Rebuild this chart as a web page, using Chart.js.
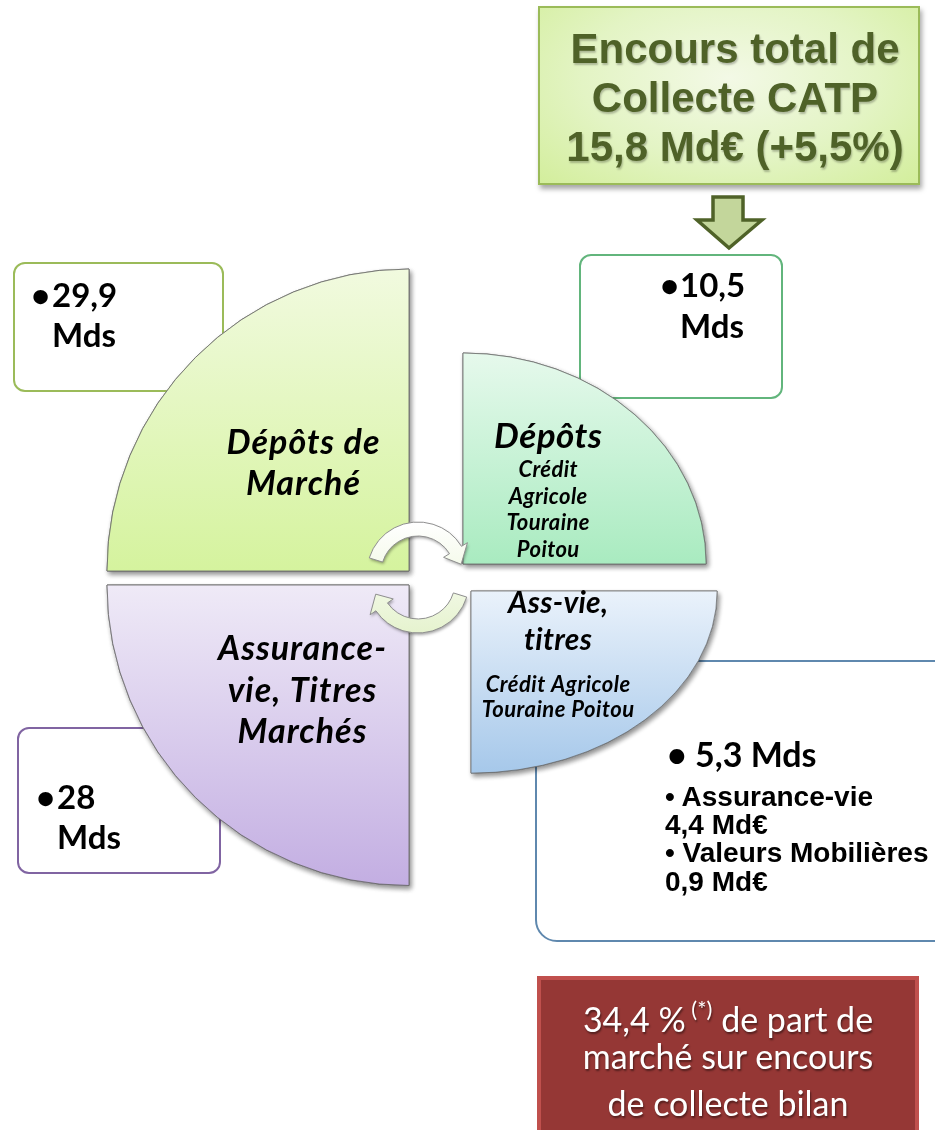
<!DOCTYPE html>
<html>
<head>
<meta charset="utf-8">
<script src="https://cdn.jsdelivr.net/npm/chart.js@4.4.1/dist/chart.umd.min.js"></script>
<style>
  html, body { margin: 0; padding: 0; background: #fff; }
  #page { position: relative; width: 935px; height: 1130px; overflow: hidden; }
  #chart { position: absolute; left: 0; top: 0; z-index: 2; }
  .box { position: absolute; box-sizing: border-box; background: #fff; z-index: 1; }
  .txt { position: absolute; white-space: nowrap; z-index: 3; }
  #arrow { position: absolute; left: 0; top: 0; z-index: 1; }
</style>
</head>
<body>
<div id="page">
  <!-- value boxes (sit behind the quadrants) -->
  <div class="box" style="left:13px;top:262px;width:211px;height:130px;border:2px solid #9bbb59;border-radius:12px;"></div>
  <div class="box" style="left:579px;top:254px;width:204px;height:145px;border:2px solid #62b57c;border-radius:12px;"></div>
  <div class="box" style="left:17px;top:727px;width:204px;height:147px;border:2px solid #8064a2;border-radius:12px;"></div>
  <div class="box" style="left:535px;top:660px;width:420px;height:282px;border:2px solid #5f88ae;border-radius:22px;"></div>

  <!-- total box -->
  <div class="box" style="left:538px;top:6px;width:382px;height:179px;border:2px solid #9bbb59;
       background:radial-gradient(ellipse at 50% 40%, #f3f9e6 0%, #e3f4c4 55%, #d3ee9c 100%);
       box-shadow:2px 4px 5px rgba(0,0,0,0.35);"></div>
  <svg id="arrow" width="935" height="300">
    <polygon points="713,197 743,197 743,220 762,220 729,248 697,220 713,220"
             fill="#c3d69b" stroke="#4f6228" stroke-width="3.5" stroke-linejoin="miter"/>
  </svg>

  <!-- market share box -->
  <div class="box" style="left:537px;top:976px;width:382px;height:170px;background:#953735;border:4px solid #c0504d;"></div>

  <canvas id="chart" width="935" height="1130"></canvas>
</div>

<script>
// quadrants, clockwise from the top-right one
const labels = [
  "Dépôts Crédit Agricole Touraine Poitou",
  "Ass-vie, titres Crédit Agricole Touraine Poitou",
  "Assurance-vie, Titres Marchés",
  "Dépôts de Marché"
];
// encours in Mds €
const amounts = [10.5, 5.3, 28, 29.9];
// relative size of each quadrant as drawn (largest = 100)
const segmentSize = [80.5, 81.5, 100, 100];

// lines written inside each quadrant: [text, font size, letter spacing]
const labelLines = [
  [["Dépôts", 35, 0.5], ["Crédit", 22, 0.4], ["Agricole", 22, 0.4], ["Touraine", 22, 0.4], ["Poitou", 22, 0.4]],
  [["Ass-vie,", 30, 0.3], ["titres", 30, 0.3], ["Crédit Agricole", 22, 0.5], ["Touraine Poitou", 22, 0.5]],
  [["Assurance-", 34, 1], ["vie, Titres", 34, 1], ["Marchés", 34, 1]],
  [["Dépôts de", 34, 1], ["Marché", 34, 1]]
];

// look of each quadrant
const gradTop = ["#e6f9ec", "#eaf2fb", "#efeaf7", "#f1fadf"];
const gradBottom = ["#a9ebc0", "#a6c8ea", "#c3aee2", "#d5f39e"];
// exploded layout: shift of each corner and vertical squash
const quadShift = [
  { dx: 26, dy: -14, sy: 0.868 },
  { dx: 34, dy: 13, sy: 0.74 },
  { dx: -28, dy: 7, sy: 0.995 },
  { dx: -28, dy: -7, sy: 1 }
];
// label anchor relative to each quadrant corner: x and the line baselines
const labelPos = [
  { x: 85, base: [-116, -87, -60, -34, -7] },
  { x: 87, base: [22, 59, 101, 126] },
  { x: -107, base: [75, 117, 158] },
  { x: -106, base: [-117, -76] }
];

function quadrantFill(c) {
  const r = c.chart.scales.r;
  const i = c.dataIndex;
  if (!r || r.xCenter === undefined) return gradBottom[i];
  const rad = r.getDistanceFromCenterForValue(segmentSize[i]);
  const top = i === 0 || i === 3;
  const y0 = top ? r.yCenter - rad : r.yCenter;
  const g = c.chart.ctx.createLinearGradient(0, y0, 0, y0 + rad);
  g.addColorStop(0, gradTop[i]);
  g.addColorStop(1, gradBottom[i]);
  return g;
}

function arrowPath(ctx, cx, cy, a0, a1, a2) {
  const r1 = 37, r2 = 51, rm = (r1 + r2) / 2;
  ctx.beginPath();
  ctx.arc(cx, cy, r2, a0, a1, false);
  ctx.lineTo(cx + (r2 + 7) * Math.cos(a1), cy + (r2 + 7) * Math.sin(a1));
  ctx.lineTo(cx + rm * Math.cos(a2), cy + rm * Math.sin(a2));
  ctx.lineTo(cx + (r1 - 7) * Math.cos(a1), cy + (r1 - 7) * Math.sin(a1));
  ctx.lineTo(cx + r1 * Math.cos(a1), cy + r1 * Math.sin(a1));
  ctx.arc(cx, cy, r1, a1, a0, true);
  ctx.closePath();
}

const quadrantLook = {
  id: "quadrantLook",
  beforeDatasetDraw(chart, args) {
    const ctx = chart.ctx;
    args.meta.data.forEach((arc, i) => {
      const s = quadShift[i];
      for (let pass = 0; pass < 2; pass++) {
        ctx.save();
        if (pass === 0) {
          ctx.shadowColor = "rgba(0,0,0,0.45)";
          ctx.shadowBlur = 5;
          ctx.shadowOffsetX = 2;
          ctx.shadowOffsetY = 3;
        }
        ctx.translate(arc.x + s.dx, arc.y + s.dy);
        ctx.scale(1, s.sy);
        ctx.translate(-arc.x, -arc.y);
        arc.draw(ctx, chart.chartArea);
        ctx.restore();
      }
    });
    return false;
  },
  afterDatasetsDraw(chart) {
    const ctx = chart.ctx;
    const r = chart.scales.r;
    const cx = r.xCenter - 19;

    // the two circular arrows in the middle
    [[r.yCenter - 5, Math.PI + 0.3, 2 * Math.PI - 0.55, 2 * Math.PI - 0.2],
     [r.yCenter + 4, 0.3, Math.PI - 0.6, Math.PI - 0.28]].forEach(([cy, a0, a1, a2]) => {
      const g = ctx.createLinearGradient(cx, cy - 50, cx, cy + 50);
      g.addColorStop(0, "#ffffff");
      g.addColorStop(1, "#e6f3cf");
      ctx.save();
      ctx.shadowColor = "rgba(0,0,0,0.35)";
      ctx.shadowBlur = 3;
      ctx.shadowOffsetX = 1;
      ctx.shadowOffsetY = 2;
      arrowPath(ctx, cx, cy, a0, a1, a2);
      ctx.fillStyle = g;
      ctx.fill();
      ctx.restore();
      arrowPath(ctx, cx, cy, a0, a1, a2);
      ctx.strokeStyle = "#8f8f8f";
      ctx.lineWidth = 1;
      ctx.stroke();
    });

    // quadrant labels
    chart.getDatasetMeta(0).data.forEach((arc, i) => {
      const s = quadShift[i];
      const p = labelPos[i];
      ctx.save();
      ctx.fillStyle = "#000";
      ctx.textAlign = "center";
      ctx.textBaseline = "alphabetic";
      labelLines[i].forEach(([t, size, ls], k) => {
        ctx.font = "italic bold " + size + "px Lato, 'Open Sans', sans-serif";
        ctx.letterSpacing = ls + "px";
        ctx.fillText(t, arc.x + s.dx + p.x + ls / 2, arc.y + s.dy + p.base[k]);
      });
      ctx.restore();
    });
  }
};

new Chart(document.getElementById("chart"), {
  type: "polarArea",
  data: {
    labels: labels,
    datasets: [{
      label: "Encours (Mds €)",
      data: segmentSize,
      backgroundColor: quadrantFill,
      borderColor: "rgba(105,105,105,0.85)",
      borderWidth: 1,
      borderJoinStyle: "miter",
      borderAlign: "center"
    }]
  },
  options: {
    responsive: false,
    devicePixelRatio: 1,
    animation: false,
    layout: { padding: { left: 135, top: 276, right: 196, bottom: 250 } },
    plugins: { legend: { display: false }, tooltip: { enabled: false } },
    scales: { r: { display: false, min: 0, max: 100 } }
  },
  plugins: [quadrantLook]
});

// text of the boxes, placed by baseline
const ASC = { lato: 0.987, arial: 0.9465 };
const page = document.getElementById("page");
function addLine(x, base, html, size, fam, opt) {
  opt = opt || {};
  const d = document.createElement("div");
  d.className = "txt";
  d.style.fontFamily = fam === "arial" ? "'Liberation Sans', Arial, sans-serif" : "Lato, sans-serif";
  d.style.fontSize = size + "px";
  d.style.lineHeight = (1.2 * size) + "px";
  d.style.fontWeight = opt.weight || "bold";
  d.style.color = opt.color || "#000";
  d.style.top = (base - ASC[fam] * size) + "px";
  if (opt.center) {
    d.style.left = (x - 250) + "px";
    d.style.width = "500px";
    d.style.textAlign = "center";
  } else {
    d.style.left = x + "px";
  }
  if (opt.shadow) d.style.textShadow = opt.shadow;
  d.innerHTML = html;
  page.appendChild(d);
}
const fmt = v => String(v).replace(".", ",");

addLine(31, 308, "•", 33, "lato");
addLine(52, 308, fmt(amounts[3]), 33, "lato");
addLine(52, 348, "Mds", 33, "lato");

addLine(660, 298, "•", 33, "lato");
addLine(680, 298, fmt(amounts[0]), 33, "lato");
addLine(680, 339, "Mds", 33, "lato");

addLine(36, 810, "•", 33, "lato");
addLine(57, 810, fmt(amounts[2]), 33, "lato");
addLine(57, 850, "Mds", 33, "lato");

addLine(667, 768, "• " + fmt(amounts[1]) + " Mds", 34, "lato");
addLine(665, 807, "• Assurance-vie", 28, "arial");
addLine(665, 835, "4,4 Md€", 28, "arial");
addLine(665, 863, "• Valeurs Mobilières", 28, "arial");
addLine(665, 892, "0,9 Md€", 28, "arial");

const olive = { color: "#4f6228", center: true, shadow: "1px 2px 2px rgba(0,0,0,0.25)" };
addLine(735, 64, "Encours total de", 42, "arial", olive);
addLine(735, 113, "Collecte CATP", 42, "arial", olive);
addLine(735, 162, "15,8 Md€ (+5,5%)", 42, "arial", olive);

const white = { color: "#fff", center: true, weight: "normal", shadow: "1px 2px 2px rgba(0,0,0,0.45)" };
addLine(728, 1023, "34,4 %<sup style=\"font-size:22px;vertical-align:15px;\"> (*)</sup> de part de", 34, "lato", white);
addLine(728, 1070, "marché sur encours", 34, "lato", white);
addLine(728, 1117, "de collecte bilan", 34, "lato", white);
</script>
</body>
</html>
